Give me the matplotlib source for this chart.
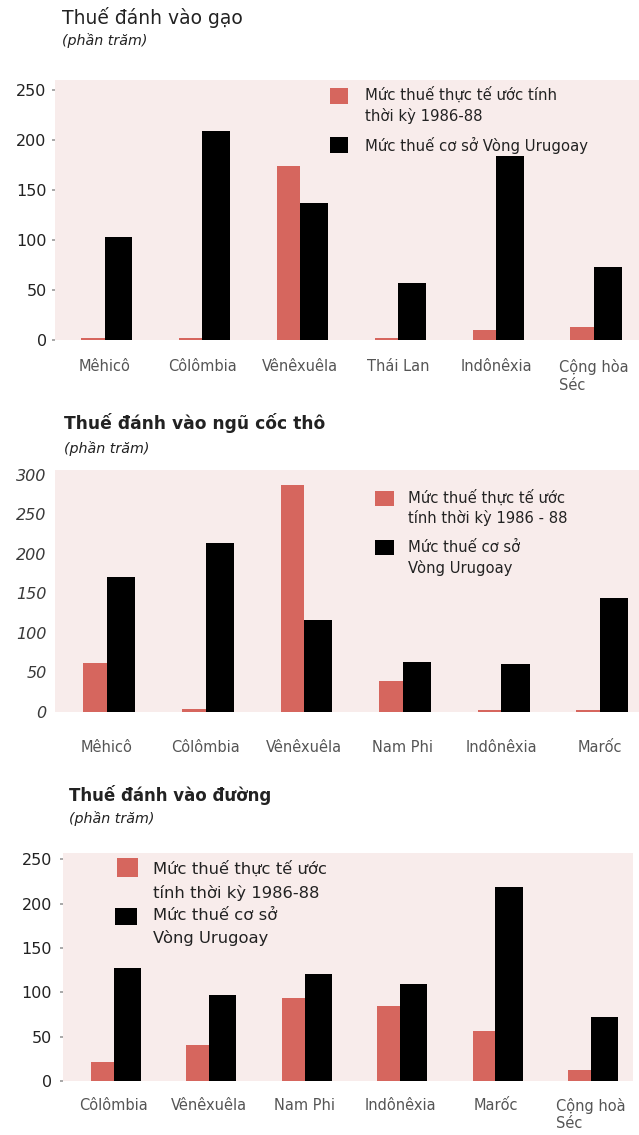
import matplotlib
matplotlib.use("Agg")
import matplotlib.pyplot as plt
import numpy as np
from matplotlib.patches import Rectangle

W, H = 639, 1135
RED, BLACK, BG = "#d6665e", "#000000", "#f8eceb"
INK, GREY = "#222222", "#555555"
plt.rcParams["font.family"] = ["DejaVu Sans"]

# ── data (percent) ──────────────────────────────────────────────
rice_cats = ["Mêhicô", "Côlômbia", "Vênêxuêla", "Thái Lan", "Indônêxia", "Cộng hòa\nSéc"]
rice_actual = [2, 2, 174, 2, 10, 13]
rice_bound = [103, 209, 137, 57, 184, 73]

grain_cats = ["Mêhicô", "Côlômbia", "Vênêxuêla", "Nam Phi", "Indônêxia", "Marốc"]
grain_actual = [62, 4, 287, 39, 3, 3]
grain_bound = [171, 214, 116, 63, 61, 144]

sugar_cats = ["Côlômbia", "Vênêxuêla", "Nam Phi", "Indônêxia", "Marốc", "Cộng hoà\nSéc"]
sugar_actual = [21, 41, 94, 85, 56, 12]
sugar_bound = [127, 97, 121, 109, 219, 72]


def fx(x): return x / W
def fy(y): return 1 - y / H


def panel(fig, l, t, r, b, cats, actual, bound, xlim, ylim, yticks,
          tick_style="normal", tick_len=2, xpad=15, ypad=5, ytick_fs=11.5,
          ytick_color=INK):
    ax = fig.add_axes([fx(l), fy(b), (r - l) / W, (b - t) / H])
    ax.set_facecolor(BG)
    x = np.arange(len(cats))
    wr, wb = 0.24, 0.285
    ax.bar(x - wr / 2, actual, wr, color=RED, zorder=2)
    ax.bar(x + wb / 2, bound, wb, color=BLACK, zorder=2)
    ax.set_xlim(*xlim)
    ax.set_ylim(*ylim)
    ax.set_yticks(yticks)
    ax.set_xticks(x)
    ax.set_xticklabels(cats, fontsize=10.5, color=GREY, multialignment="left")
    for s in ax.spines.values():
        s.set_visible(False)
    ax.tick_params(axis="x", length=0, pad=xpad)
    ax.tick_params(axis="y", length=tick_len, width=1.2, color="#999999",
                   pad=ypad, labelsize=ytick_fs, labelcolor=ytick_color)
    for lab in ax.get_yticklabels():
        lab.set_fontstyle(tick_style)
    return ax


def legend_item(fig, px, py, pw, ph, color, lines, tx, ty, dy, fs):
    fig.patches.append(Rectangle((fx(px), fy(py + ph)), pw / W, ph / H,
                                 transform=fig.transFigure, facecolor=color,
                                 edgecolor="none"))
    for i, s in enumerate(lines):
        fig.text(fx(tx), fy(ty + i * dy), s, fontsize=fs, color=INK, va="center")


def titles(fig, x, y, title, weight, fs, sub_y):
    fig.text(fx(x), fy(y), title, fontsize=fs, fontweight=weight, color=INK, va="center")
    fig.text(fx(x), fy(sub_y), "(phần trăm)", fontsize=10.3, style="italic",
             color=INK, va="center")


fig = plt.figure(figsize=(W / 100, H / 100), dpi=100)
fig.patch.set_facecolor("white")

# ── rice ────────────────────────────────────────────────────────
titles(fig, 62, 18, "Thuế đánh vào gạo", "normal", 13.5, 41)
panel(fig, 55, 80, 639, 340, rice_cats, rice_actual, rice_bound,
      (-0.506, 5.46), (0, 260), [0, 50, 100, 150, 200, 250], xpad=14, ypad=4)
legend_item(fig, 330, 88, 18, 16, RED, ["Mức thuế thực tế ước tính", "thời kỳ 1986-88"],
            365, 95, 21, 10.7)
legend_item(fig, 330, 137, 18, 16, BLACK, ["Mức thuế cơ sở Vòng Urugoay"],
            365, 145, 21, 10.7)

# ── coarse grains ──────────────────────────────────────────────
titles(fig, 64, 423, "Thuế đánh vào ngũ cốc thô", "bold", 12.3, 448)
panel(fig, 55, 470, 639, 712, grain_cats, grain_actual, grain_bound,
      (-0.527, 5.395), (0, 306), [0, 50, 100, 150, 200, 250, 300],
      tick_style="italic", tick_len=0, xpad=20, ypad=6, ytick_color="#3a3a3a")
legend_item(fig, 375, 491, 19, 15, RED, ["Mức thuế thực tế ước", "tính thời kỳ 1986 - 88"],
            408, 498, 20, 10.6)
legend_item(fig, 375, 540, 19, 15, BLACK, ["Mức thuế cơ sở", "Vòng Urugoay"],
            408, 548, 20, 10.6)

# ── sugar ───────────────────────────────────────────────────────
titles(fig, 69, 795, "Thuế đánh vào đường", "bold", 12, 818)
panel(fig, 63, 853, 633, 1081, sugar_cats, sugar_actual, sugar_bound,
      (-0.529, 5.44), (0, 257), [0, 50, 100, 150, 200, 250], xpad=12, ypad=6)
legend_item(fig, 117, 858, 21, 19, RED, ["Mức thuế thực tế ước", "tính thời kỳ 1986-88"],
            153, 869, 24, 11.8)
legend_item(fig, 115, 908, 22, 17, BLACK, ["Mức thuế cơ sở", "Vòng Urugoay"],
            153, 916, 22, 11.8)

fig.savefig("out.png", dpi=100, facecolor="white")
